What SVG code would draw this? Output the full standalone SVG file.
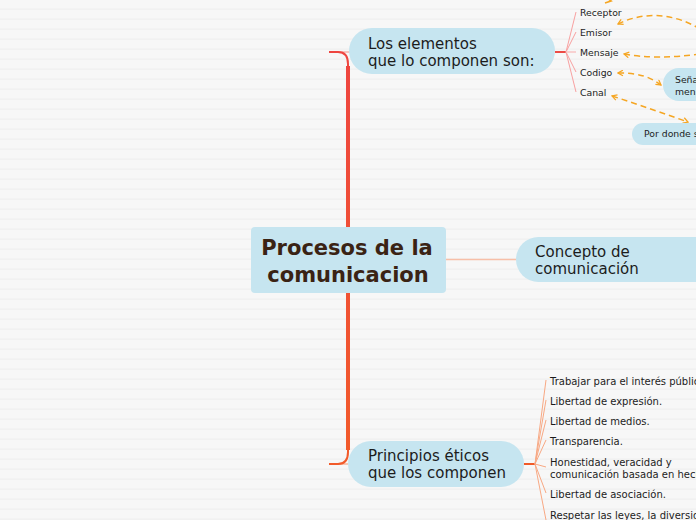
<svg xmlns="http://www.w3.org/2000/svg" width="696" height="520" viewBox="0 0 696 520">
<defs>
<pattern id="bg" width="10" height="10" patternUnits="userSpaceOnUse">
<rect width="10" height="10" fill="#f7f7f7"/>
<rect y="8.5" width="10" height="1.2" fill="#efefef"/>
</pattern>
<linearGradient id="trunk" x1="0" y1="52" x2="0" y2="464" gradientUnits="userSpaceOnUse">
<stop offset="0" stop-color="#ee4540"/>
<stop offset="1" stop-color="#f25b2a"/>
</linearGradient>
<marker id="ah" viewBox="0 0 10 10" refX="8" refY="5" markerWidth="7" markerHeight="7" orient="auto-start-reverse" markerUnits="userSpaceOnUse">
<path d="M1,1 L8,5 L1,9" fill="none" stroke="#f5a623" stroke-width="1.8"/>
</marker>
</defs>
<style>
.node{fill:#c6e5f0}
.t1{font-family:"DejaVu Sans",Verdana,sans-serif;font-size:15px;fill:#1c1c1c}
.ts{font-family:"DejaVu Sans",Verdana,sans-serif;font-size:9.3px;fill:#1c1c1c}
.tl{font-family:"DejaVu Sans",Verdana,sans-serif;font-size:10px;fill:#1c1c1c}
.tc{font-family:"DejaVu Sans",Verdana,sans-serif;font-size:21px;font-weight:bold;fill:#3a2314}
.fanr{stroke:#f8a0a0;stroke-width:1;fill:none}
.fano{stroke:#f8a883;stroke-width:1;fill:none}
.dash{stroke:#f5a623;stroke-width:1.5;fill:none;stroke-dasharray:6 4}
</style>
<rect width="696" height="520" fill="url(#bg)"/>

<g id="connectors">
<path d="M329,52 L352,52" stroke="#f7b3ad" stroke-width="1.5" fill="none"/>
<path d="M329,464 L352,464" stroke="#f7b79c" stroke-width="1.5" fill="none"/>
<path d="M329,52 L338,52 Q348,52 348,64 L348,452 Q348,464 338,464 L329,464" stroke="url(#trunk)" stroke-width="2" fill="none"/>
<path d="M348,66 L348,450" stroke="url(#trunk)" stroke-width="4" fill="none"/>
<path d="M446,259.5 L517,259.5" stroke="#f7bfa8" stroke-width="1.5"/>
<path d="M555,52 L566,52" stroke="#ec4b45" stroke-width="2"/>
<path d="M566,52 L576,12 M566,52 L576,32 M566,52 L576,72 M566,52 L576,92" class="fanr"/>
<path d="M566,52 L576,52" stroke="#f9c4c4" stroke-width="1.5"/>
<path d="M524,464 L535,464" stroke="#f05a28" stroke-width="2"/>
<path d="M535,464 L546,380 M535,464 L546,400 M535,464 L546,420 M535,464 L546,440 M535,464 L546,467 M535,464 L546,493 M535,464 L546,520" class="fano"/>
<path d="M700,29 C672,12 642,12 618,24" class="dash" marker-end="url(#ah)"/>
<path d="M700,54 C672,58 645,58 624,54" class="dash" marker-end="url(#ah)"/>
<path d="M618,73 C640,73 650,77 661,85" class="dash" marker-start="url(#ah)" marker-end="url(#ah)"/>
<path d="M612,96 C640,105 665,114 688,122" class="dash" marker-start="url(#ah)" marker-end="url(#ah)"/>
<path d="M606,-3 L611,1 L605,3" fill="none" stroke="#f5a623" stroke-width="1.8"/>
</g>

<g id="central">
<rect x="251" y="227" width="195" height="66" rx="4" class="node"/>
<text x="347" y="255" text-anchor="middle" class="tc">Procesos de la</text>
<text x="348" y="282" text-anchor="middle" class="tc">comunicacion</text>
</g>

<g id="elementos">
<rect x="349" y="28" width="206" height="46" rx="23" class="node"/>
<text x="368" y="49" class="t1">Los elementos</text>
<text x="368" y="66" class="t1">que lo componen son:</text>
</g>

<g id="concepto">
<rect x="516" y="237" width="220" height="45" rx="22.5" class="node"/>
<text x="535" y="257" class="t1">Concepto de</text>
<text x="535" y="274" class="t1">comunicación</text>
</g>

<g id="principios">
<rect x="348" y="441" width="176" height="46" rx="23" class="node"/>
<text x="368" y="461" class="t1">Principios éticos</text>
<text x="368" y="478" class="t1">que los componen</text>
</g>

<g id="receptor"><text x="580" y="16" class="ts">Receptor</text></g>
<g id="emisor"><text x="580" y="36" class="ts">Emisor</text></g>
<g id="mensaje"><text x="580" y="56" class="ts">Mensaje</text></g>
<g id="codigo"><text x="580" y="76" class="ts">Codigo</text></g>
<g id="canal"><text x="580" y="96" class="ts">Canal</text></g>

<g id="senal">
<rect x="663" y="68" width="60" height="33" rx="16" class="node"/>
<text x="675" y="83" class="ts">Señal</text>
<text x="675" y="95" class="ts">mensaje</text>
</g>

<g id="pordonde">
<rect x="632" y="123" width="100" height="22" rx="11" class="node"/>
<text x="644" y="137" class="ts">Por donde se</text>
</g>

<g id="p1"><text x="550" y="385" class="tl">Trabajar para el interés público.</text></g>
<g id="p2"><text x="550" y="405" class="tl">Libertad de expresión.</text></g>
<g id="p3"><text x="550" y="425" class="tl">Libertad de medios.</text></g>
<g id="p4"><text x="550" y="445" class="tl">Transparencia.</text></g>
<g id="p5"><text x="550" y="466" class="tl">Honestidad, veracidad y</text><text x="550" y="478" class="tl">comunicación basada en hechos.</text></g>
<g id="p6"><text x="550" y="498" class="tl">Libertad de asociación.</text></g>
<g id="p7"><text x="550" y="519" class="tl">Respetar las leyes, la diversidad</text></g>
</svg>
